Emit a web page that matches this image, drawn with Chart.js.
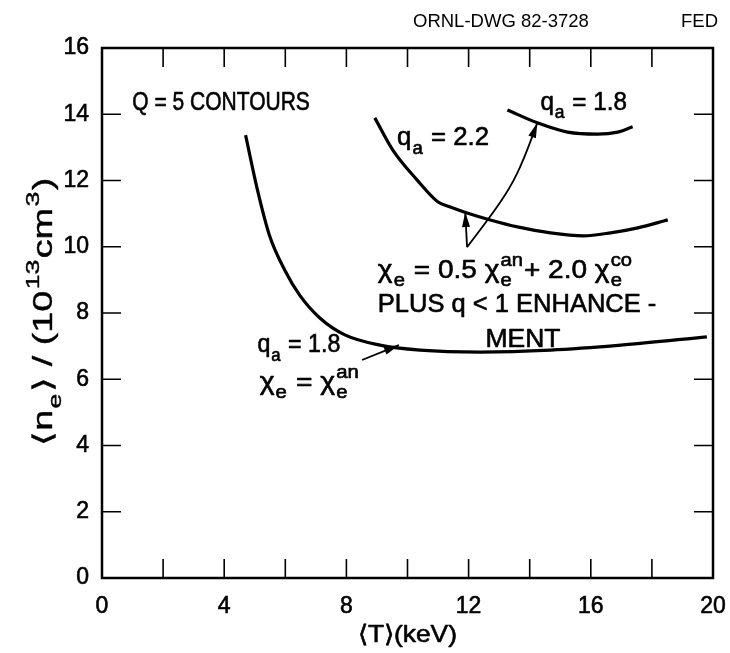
<!DOCTYPE html>
<html>
<head>
<meta charset="utf-8">
<script src="https://cdn.jsdelivr.net/npm/chart.js@4/dist/chart.umd.min.js"></script>
<style>
  html, body { margin: 0; padding: 0; background: #fff; }
  #wrap { width: 730px; height: 653px; }
</style>
</head>
<body>
<div id="wrap"><canvas id="c" width="730" height="653"></canvas></div>
<script>
// Axis ranges and tick labels
const tempTickLabels = [0, 4, 8, 12, 16, 20];
const densTickLabels = [0, 2, 4, 6, 8, 10, 12, 14, 16];

// Q = 5 contour, q_a = 1.8, chi_e = chi_e^an
const tempAn18 = [4.70, 5.09, 5.48, 5.98, 6.47, 7.13, 7.95, 9.10, 10.41, 12.38, 14.68, 16.98, 19.8];
const densAn18 = [13.37, 11.71, 10.35, 9.30, 8.54, 7.85, 7.34, 7.03, 6.88, 6.82, 6.88, 7.03, 7.28];

// Q = 5 contour, q_a = 2.2, mixed transport model
const tempMix22 = [8.93, 9.52, 10.31, 11.00, 11.40, 11.95, 12.71, 13.60, 14.68, 15.76, 16.65, 17.54, 18.52];
const densMix22 = [13.89, 12.92, 12.02, 11.35, 11.20, 11.02, 10.81, 10.60, 10.42, 10.33, 10.42, 10.57, 10.81];

// Q = 5 contour, q_a = 1.8, mixed transport model
const tempMix18 = [13.27, 14.25, 15.24, 16.22, 16.88, 17.37];
const densMix18 = [14.13, 13.74, 13.46, 13.40, 13.46, 13.62];

const FONT = '"Liberation Sans", Arial, sans-serif';

function toPts(xs, ys) { return xs.map((v, i) => ({ x: v, y: ys[i] })); }

// Text labels, anchored in data units (T, n); sx is the horizontal letter scale
const labels = [
  { at: [0.99, 14.13], sx: 0.84, parts: [{ t: 'Q = 5 CONTOURS' }] },
  { at: [14.35, 14.13], sx: 0.97, parts: [{ t: 'q' }, { sub: 'a' }, { t: ' = 1.8' }] },
  { at: [9.66, 13.07], sx: 1.03, parts: [{ t: 'q' }, { sub: 'a' }, { t: ' = 2.2' }] },
  { at: [9.03, 9.06], sx: 1.12, parts: [{ t: 'χ' }, { sub: 'e' }, { t: ' = 0.5 χ' }, { sub: 'e', sup: 'an' }, { t: '+ 2.0 χ' }, { sub: 'e', sup: 'co' }] },
  { at: [9.03, 8.03], sx: 1.02, parts: [{ t: 'PLUS q < 1 ENHANCE -' }] },
  { at: [12.55, 6.97], sx: 1.06, parts: [{ t: 'MENT' }] },
  { at: [5.09, 6.82], sx: 0.93, parts: [{ t: 'q' }, { sub: 'a' }, { t: ' = 1.8' }] },
  { at: [5.16, 5.68], sx: 1.13, parts: [{ t: 'χ' }, { sub: 'e' }, { t: ' = χ' }, { sub: 'e', sup: 'an' }] }
];

// Pointer arrows, in data units, ending at the tip
const arrows = [
  [[8.51, 6.58], [9.15, 6.82], [9.72, 7.03]],
  [[11.95, 9.99], [11.89, 11.05]],
  [[11.95, 9.99], [12.71, 10.90], [13.37, 11.80], [13.80, 12.62], [14.25, 13.74]]
];

function measureRich(ctx, parts, size) {
  let w = 0;
  for (const p of parts) {
    if (p.t !== undefined) {
      ctx.font = size + 'px ' + FONT;
      w += ctx.measureText(p.t).width;
    } else {
      ctx.font = Math.round(size * 0.72) + 'px ' + FONT;
      w += Math.max(p.sub ? ctx.measureText(p.sub).width : 0, p.sup ? ctx.measureText(p.sup).width : 0) + 2;
    }
  }
  return w;
}

// Text with sub/superscripts; an optional thin outline gives the pen-lettered weight
function drawRich(ctx, x, y, parts, size, sx, rot, outline) {
  const ow = outline === undefined ? 0.6 : outline;
  ctx.save();
  ctx.translate(x, y);
  if (rot) ctx.rotate(rot);
  ctx.scale(sx, 1);
  ctx.fillStyle = '#000';
  ctx.strokeStyle = '#000';
  if (ow > 0) ctx.lineWidth = ow;
  ctx.lineJoin = 'round';
  ctx.textBaseline = 'alphabetic';
  ctx.textAlign = 'left';
  const put = (s, px, py) => { ctx.fillText(s, px, py); if (ow > 0) ctx.strokeText(s, px, py); };
  let cx = 0;
  for (const p of parts) {
    if (p.t !== undefined) {
      ctx.font = size + 'px ' + FONT;
      put(p.t, cx, 0);
      cx += ctx.measureText(p.t).width;
    } else {
      ctx.font = Math.round(size * 0.72) + 'px ' + FONT;
      let w = 0;
      if (p.sub) { put(p.sub, cx + 1, size * 0.34); w = Math.max(w, ctx.measureText(p.sub).width); }
      if (p.sup) { put(p.sup, cx + 1, -size * 0.48); w = Math.max(w, ctx.measureText(p.sup).width); }
      cx += w + 2;
    }
  }
  ctx.restore();
}

function arrowHead(ctx, x0, y0, x1, y1) {
  const a = Math.atan2(y1 - y0, x1 - x0);
  const L = 15, W = 4;
  ctx.beginPath();
  ctx.moveTo(x1, y1);
  ctx.lineTo(x1 - L * Math.cos(a) + W * Math.sin(a), y1 - L * Math.sin(a) - W * Math.cos(a));
  ctx.lineTo(x1 - L * Math.cos(a) - W * Math.sin(a), y1 - L * Math.sin(a) + W * Math.cos(a));
  ctx.closePath();
  ctx.fill();
}

const decorations = {
  id: 'decorations',
  afterDraw(chart) {
    const { ctx, chartArea: a, scales: { x, y } } = chart;
    ctx.save();
    ctx.strokeStyle = '#000';
    ctx.fillStyle = '#000';

    // frame
    ctx.lineWidth = 2.5;
    ctx.strokeRect(a.left, a.top, a.right - a.left, a.bottom - a.top);

    // inward ticks on all four sides
    const TL = 19;
    ctx.lineWidth = 1.6;
    ctx.beginPath();
    x.ticks.forEach(t => {
      if (t.value <= x.min || t.value >= x.max) return;
      const px = x.getPixelForValue(t.value);
      ctx.moveTo(px, a.bottom); ctx.lineTo(px, a.bottom - TL);
      ctx.moveTo(px, a.top); ctx.lineTo(px, a.top + TL);
    });
    y.ticks.forEach(t => {
      if (t.value <= y.min || t.value >= y.max) return;
      const py = y.getPixelForValue(t.value);
      ctx.moveTo(a.left, py); ctx.lineTo(a.left + TL, py);
      ctx.moveTo(a.right, py); ctx.lineTo(a.right - TL, py);
    });
    ctx.stroke();

    // arrows
    ctx.lineWidth = 1.8;
    arrows.forEach(pts => {
      const p = pts.map(v => [x.getPixelForValue(v[0]), y.getPixelForValue(v[1])]);
      ctx.beginPath();
      ctx.moveTo(p[0][0], p[0][1]);
      if (p.length === 2) {
        ctx.lineTo(p[1][0], p[1][1]);
      } else {
        for (let i = 1; i < p.length - 1; i++) {
          const mx = (p[i][0] + p[i + 1][0]) / 2, my = (p[i][1] + p[i + 1][1]) / 2;
          ctx.quadraticCurveTo(p[i][0], p[i][1], mx, my);
        }
        ctx.lineTo(p[p.length - 1][0], p[p.length - 1][1]);
      }
      ctx.stroke();
      const n = p.length;
      arrowHead(ctx, p[n - 2][0], p[n - 2][1], p[n - 1][0], p[n - 1][1]);
    });

    // annotations
    labels.forEach(l => {
      drawRich(ctx, x.getPixelForValue(l.at[0]), y.getPixelForValue(l.at[1]), l.parts, 25, l.sx);
    });

    // axis titles
    const xt = [{ t: '⟨T⟩(keV)' }];
    const xw = measureRich(ctx, xt, 24) * 1.1;
    drawRich(ctx, (a.left + a.right) / 2 - xw / 2, 642, xt, 24, 1.1);

    const yt = [{ t: '⟨n' }, { sub: 'e' }, { t: '⟩ / (10' }, { sup: '13' }, { t: 'cm' }, { sup: '3' }, { t: ')' }];
    const yw = measureRich(ctx, yt, 27) * 1.4;
    drawRich(ctx, 52, 312 + yw / 2, yt, 27, 1.4, -Math.PI / 2, 0.4);

    // drawing number
    ctx.font = '18.5px ' + FONT;
    ctx.textBaseline = 'alphabetic';
    ctx.textAlign = 'left';
    ctx.fillText('ORNL-DWG 82-3728', 413, 27);
    ctx.fillText('FED', 681, 27);
    ctx.restore();
  }
};

const tickFont = { family: FONT, size: 23 };

const chart = new Chart(document.getElementById('c'), {
  type: 'line',
  data: {
    datasets: [
      { data: toPts(tempAn18, densAn18) },
      { data: toPts(tempMix22, densMix22) },
      { data: toPts(tempMix18, densMix18) }
    ].map(d => Object.assign(d, {
      borderColor: '#000',
      borderWidth: 3.2,
      pointRadius: 0,
      fill: false,
      cubicInterpolationMode: 'monotone'
    }))
  },
  options: {
    responsive: false,
    devicePixelRatio: 1,
    animation: false,
    layout: { padding: { left: 0, right: 17, top: 48, bottom: 0 } },
    plugins: { legend: { display: false }, tooltip: { enabled: false }, title: { display: false } },
    scales: {
      x: {
        type: 'linear', min: 0, max: 20,
        afterFit(s) { s.height = 75; s.paddingRight = 0; s.paddingLeft = 0; },
        grid: { display: false, drawTicks: false },
        border: { display: false },
        ticks: {
          stepSize: 2, padding: 15, color: '#000',
          font: tickFont, textStrokeColor: '#000', textStrokeWidth: 0.6,
          callback: v => tempTickLabels.includes(v) ? String(v) : ''
        }
      },
      y: {
        type: 'linear', min: 0, max: 16,
        afterFit(s) { s.width = 102; s.paddingTop = 0; s.paddingBottom = 0; },
        grid: { display: false, drawTicks: false },
        border: { display: false },
        ticks: {
          stepSize: 2, padding: 13, color: '#000',
          font: tickFont, textStrokeColor: '#000', textStrokeWidth: 0.6,
          callback: v => densTickLabels.includes(v) ? String(v) : ''
        }
      }
    }
  },
  plugins: [decorations]
});
</script>
</body>
</html>
